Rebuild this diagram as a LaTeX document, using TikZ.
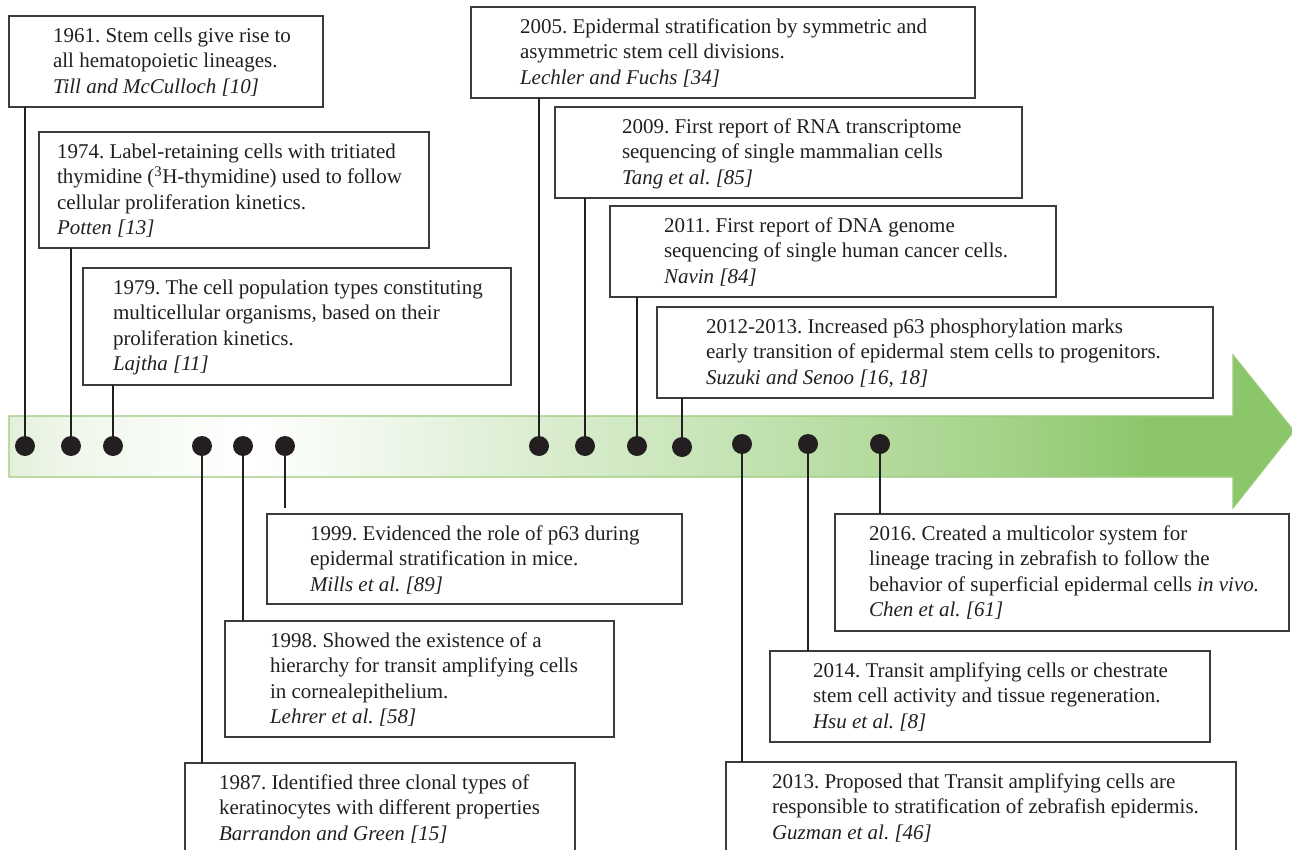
\documentclass[tikz,border=0pt]{standalone}
\usepackage{fontspec}
\setmainfont{Liberation Serif}
\usetikzlibrary{calc}
\frenchspacing
\definecolor{gA}{HTML}{E3F0DA}
\definecolor{gB}{HTML}{EEF6E9}
\definecolor{gC}{HTML}{DAEDD0}
\definecolor{gD}{HTML}{C3E2B1}
\definecolor{gE}{HTML}{A5D38A}
\definecolor{gF}{HTML}{8BC66A}
\definecolor{barline}{HTML}{9CCB7A}
\definecolor{boxgray}{HTML}{3C3C3C}
\definecolor{inkblack}{HTML}{231F20}
\pgfdeclarehorizontalshading{barshade}{100bp}{color(0bp)=(gA); color(25bp)=(gA); color(27bp)=(gB); color(34.4bp)=(white); color(45.7bp)=(gC); color(53.8bp)=(gD); color(63.6bp)=(gE); color(69.4bp)=(gF); color(75bp)=(gF); color(100bp)=(gF)}
\tikzset{
  tbox/.style={draw=boxgray, line width=1.3bp, fill=white, inner sep=0pt, outer sep=0pt},
  ttxt/.style={inner sep=0pt, outer sep=0pt, align=left, text=inkblack, font=\frenchspacing\fontsize{21bp}{25.5bp}\selectfont},
  tdot/.style={circle, fill=inkblack, minimum size=20bp, inner sep=0pt, outer sep=0pt},
  conn/.style={draw=inkblack, line width=2.2bp},
  thinconn/.style={draw=inkblack, line width=1.3bp}
}
\newcommand\tlbox[7]{%
  \node[tbox, minimum width=#4bp, minimum height=#5bp, anchor=north west] (#1) at (#2,#3) {};
  \node[ttxt, anchor=north west] (#1t) at ($(#1.north west)+(#6,11.5)$) {#7};}
\begin{document}
\begin{tikzpicture}[x=1bp,y=-1bp]
\useasboundingbox (0,0) rectangle (1292,850);
% timeline arrow
\path[shading=barshade, draw=barline, line width=1.2bp]
  (9,416) -- (1233,416) -- (1233,355) -- (1294,431) -- (1233,508) -- (1233,477) -- (9,477) -- cycle;
% dots
\node[tdot] (d1) at (25,446) {};
\node[tdot] (d2) at (71,446) {};
\node[tdot] (d3) at (113,446) {};
\node[tdot] (d4) at (202,446) {};
\node[tdot] (d5) at (243,446) {};
\node[tdot] (d6) at (285,446) {};
\node[tdot] (d7) at (539,446) {};
\node[tdot] (d8) at (585,446) {};
\node[tdot] (d9) at (637,446) {};
\node[tdot] (d10) at (682,447) {};
\node[tdot] (d11) at (742,444) {};
\node[tdot] (d12) at (808,444) {};
\node[tdot] (d13) at (880,444) {};
% boxes
\tlbox{b1}{9}{16}{314}{91}{44}{1961. Stem cells give rise to\\all hematopoietic lineages.\\\textit{Till and McCulloch [10]}}
\tlbox{b2}{39}{132}{390}{116}{18}{1974. Label-retaining cells with tritiated\\thymidine (\textsuperscript{3}H-thymidine) used to follow\\cellular proliferation kinetics.\\\textit{Potten [13]}}
\tlbox{b3}{83}{268}{428}{117}{30}{1979. The cell population types constituting\\multicellular organisms, based on their\\proliferation kinetics.\\\textit{Lajtha [11]}}
\tlbox{b4}{185}{763}{390}{91}{34}{1987. Identified three clonal types of\\keratinocytes with different properties\\\textit{Barrandon and Green [15]}}
\tlbox{b5}{225}{621}{389}{116}{45}{1998. Showed the existence of a\\hierarchy for transit amplifying cells\\in cornealepithelium.\\\textit{Lehrer et al. [58]}}
\tlbox{b6}{267}{514}{415}{90}{43}{1999. Evidenced the role of p63 during\\epidermal stratification in mice.\\\textit{Mills et al. [89]}}
\tlbox{b7}{471}{7}{504}{91}{49}{2005. Epidermal stratification by symmetric and\\asymmetric stem cell divisions.\\\textit{Lechler and Fuchs [34]}}
\tlbox{b8}{555}{107}{467}{91}{67}{2009. First report of RNA transcriptome\\sequencing of single mammalian cells\\\textit{Tang et al. [85]}}
\tlbox{b9}{610}{206}{446}{91}{54}{2011. First report of DNA genome\\sequencing of single human cancer cells.\\\textit{Navin [84]}}
\tlbox{b10}{657}{307}{556}{91}{49}{2012-2013. Increased p63 phosphorylation marks\\early transition of epidermal stem cells to progenitors.\\\textit{Suzuki and Senoo [16, 18]}}
\tlbox{b11}{726}{762}{510}{91}{46}{2013. Proposed that Transit amplifying cells are\\responsible to stratification of zebrafish epidermis.\\\textit{Guzman et al. [46]}}
\tlbox{b12}{770}{651}{440}{91}{43}{2014. Transit amplifying cells or chestrate\\stem cell activity and tissue regeneration.\\\textit{Hsu et al. [8]}}
\tlbox{b13}{835}{514}{454}{117}{34}{2016. Created a multicolor system for\\lineage tracing in zebrafish to follow the\\behavior of superficial epidermal cells \textit{in vivo.}\\\textit{Chen et al. [61]}}
% connectors
\coordinate (e6) at (285,508);
\draw[conn] (d1.center) -- (d1.center |- b1.south);
\draw[conn] (d2.center) -- (d2.center |- b2.south);
\draw[conn] (d3.center) -- (d3.center |- b3.south);
\draw[conn] (d4.center) -- (d4.center |- b4.north);
\draw[conn] (d5.center) -- (d5.center |- b5.north);
\draw[conn] (d6.center) -- (e6);
\draw[conn] (d7.center) -- (d7.center |- b7.south);
\draw[conn] (d8.center) -- (d8.center |- b8.south);
\draw[conn] (d9.center) -- (d9.center |- b9.south);
\draw[thinconn] (d10.center) -- (d10.center |- b10.south);
\draw[conn] (d11.center) -- (d11.center |- b11.north);
\draw[conn] (d12.center) -- (d12.center |- b12.north);
\draw[conn] (d13.center) -- (d13.center |- b13.north);
\end{tikzpicture}
\end{document}
